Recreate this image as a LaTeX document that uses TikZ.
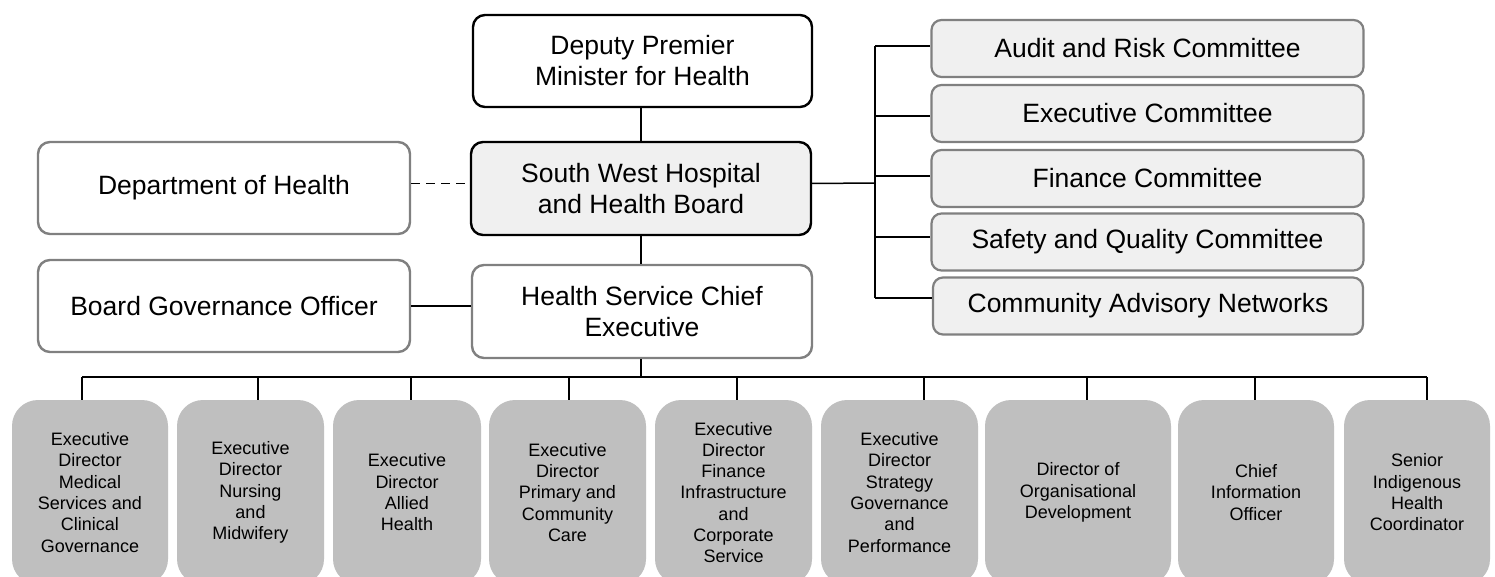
\documentclass[tikz,border=0pt]{standalone}
\usepackage{fontspec}
\setmainfont{Liberation Sans}
\begin{document}
\definecolor{edgegray}{HTML}{808080}
\definecolor{panelfill}{HTML}{F0F0F0}
\definecolor{unitfill}{HTML}{BFBFBF}
\begin{tikzpicture}[x=1pt,y=-1pt,
  base/.style={rectangle,rounded corners=12pt,align=center,inner sep=0pt,
    font=\fontsize{26.5}{31}\selectfont},
  keybox/.style={base,draw=black,line width=2.4pt},
  sidebox/.style={base,draw=edgegray,fill=white,line width=2.4pt},
  cmtbox/.style={base,draw=edgegray,fill=panelfill,line width=2.2pt,rounded corners=10pt,
    minimum width=432pt,minimum height=57pt},
  unitbox/.style={rectangle,rounded corners=26pt,fill=unitfill,align=center,inner sep=0pt,
    minimum height=185pt,font=\fontsize{18}{21.3}\selectfont},
  link/.style={line width=1.5pt,draw=black},
  dashlink/.style={link,dash pattern=on 9pt off 6pt}]
\useasboundingbox (0,0) rectangle (1495,577);
\fill[white] (0,0) rectangle (1495,577);

% upper chain
\node[keybox,fill=white,minimum width=339pt,minimum height=92pt] (dep) at (642.5,61)
  {Deputy Premier\\Minister for Health};
\node[keybox,fill=panelfill,minimum width=340pt,minimum height=93pt] (board) at (641,188.5)
  {South West Hospital\\and Health Board};
\node[sidebox,minimum width=340pt,minimum height=93pt] (hsce) at (642,311.5)
  {Health Service Chief\\Executive};
\node[sidebox,minimum width=372pt,minimum height=92pt] (doh) at (224,188)
  {Department of Health};
\node[sidebox,minimum width=372pt,minimum height=92pt] (bgo) at (224,306)
  {Board Governance Officer};

% committees
\node[cmtbox] (c1) at (1147.5,48.5) {Audit and Risk Committee};
\node[cmtbox] (c2) at (1147.5,113.5) {Executive Committee};
\node[cmtbox] (c3) at (1147.5,178.5) {Finance Committee};
\node[cmtbox] (c4) at (1147.5,242) {Safety and Quality Committee};
\node[cmtbox,minimum width=430pt] (c5) at (1148,306) {Community Advisory Networks};

% directorates
\node[unitbox,minimum width=156pt] (u1) at (90,492.5)
  {Executive\\Director\\Medical\\Services and\\Clinical\\Governance};
\node[unitbox,minimum width=147pt] (u2) at (250.5,492.5)
  {Executive\\Director\\Nursing\\and\\Midwifery};
\node[unitbox,minimum width=148pt] (u3) at (407,492.5)
  {Executive\\Director\\Allied\\Health};
\node[unitbox,minimum width=157pt] (u4) at (567.5,492.5)
  {Executive\\Director\\Primary and\\Community\\Care};
\node[unitbox,minimum width=157pt] (u5) at (733.5,492.5)
  {Executive\\Director\\Finance\\Infrastructure\\and\\Corporate\\Service};
\node[unitbox,minimum width=157pt] (u6) at (899.5,492.5)
  {Executive\\Director\\Strategy\\Governance\\and\\Performance};
\node[unitbox,minimum width=186pt] (u7) at (1078,492.5)
  {Director of\\Organisational\\Development};
\node[unitbox,minimum width=156pt] (u8) at (1256,492.5)
  {Chief\\Information\\Officer};
\node[unitbox,minimum width=146pt] (u9) at (1417,492.5)
  {Senior\\Indigenous\\Health\\Coordinator};

% connectors of the upper chain
\draw[link] (dep.south -| board) -- (board.north);
\draw[link] (board.south) -- (hsce.north -| board);
\coordinate (bmid) at ([yshift=5pt]board.west);
\draw[dashlink] (doh.east |- bmid) -- (bmid);
\draw[link] (bgo.east) -- (bgo.east -| hsce.west);

% committee trunk, with the branch points on each committee's left edge
\coordinate (trunk) at (875,183);
\coordinate (e1) at ([yshift=2.5pt]c1.west);
\coordinate (e2) at ([yshift=-2.5pt]c2.west);
\coordinate (e3) at ([yshift=2.5pt]c3.west);
\coordinate (e4) at ([yshift=5pt]c4.west);
\coordinate (e5) at ([yshift=8pt]c5.west);
\draw[link] (bmid -| board.east) -- (trunk);
\draw[link] (trunk |- e1) -- (trunk |- e5);
\foreach \e in {e1,e2,e3,e4,e5}
  \draw[link] (trunk |- \e) -- (\e);

% directorate bus
\coordinate (bus) at (641,377);
\coordinate (d1) at ([xshift=-8pt]u1.north);
\coordinate (d2) at ([xshift=7.5pt]u2.north);
\coordinate (d3) at ([xshift=4pt]u3.north);
\coordinate (d4) at ([xshift=1.5pt]u4.north);
\coordinate (d5) at ([xshift=3.5pt]u5.north);
\coordinate (d6) at ([xshift=24.5pt]u6.north);
\coordinate (d7) at ([xshift=9pt]u7.north);
\coordinate (d8) at ([xshift=-1pt]u8.north);
\coordinate (d9) at ([xshift=10pt]u9.north);
\draw[link] (hsce.south -| bus) -- (bus);
\draw[link] (d1 |- bus) -- (d9 |- bus);
\foreach \d in {d1,d2,d3,d4,d5,d6,d7,d8,d9}
  \draw[link] (\d |- bus) -- (\d);
\end{tikzpicture}
\end{document}
